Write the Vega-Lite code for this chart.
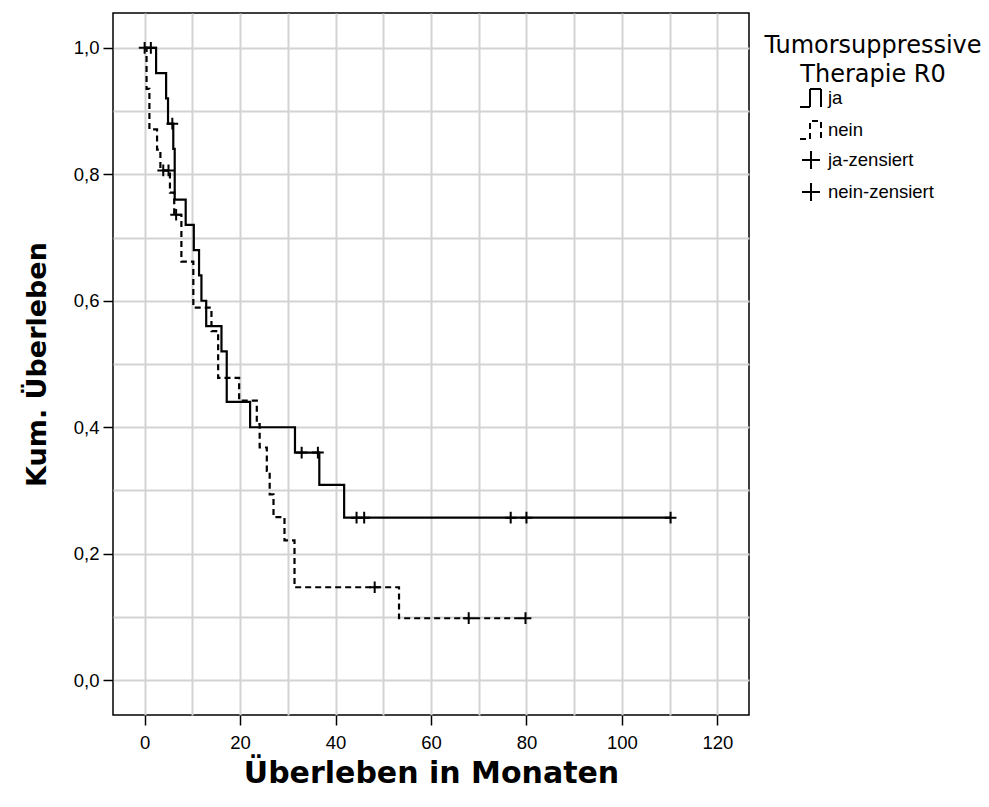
{
  "$schema": "https://vega.github.io/schema/vega-lite/v6.json",
  "width": 636,
  "height": 702,
  "autosize": {"type": "none"},
  "padding": {"left": 113, "top": 13, "right": 240, "bottom": 92},
  "background": "white",
  "title": {
    "text": ["Tumorsuppressive", "Therapie R0"],
    "orient": "top",
    "anchor": "end",
    "frame": "group",
    "align": "center",
    "baseline": "top",
    "offset": 0,
    "dx": 124,
    "dy": 74,
    "font": "DejaVu Sans",
    "fontSize": 24,
    "fontWeight": "normal",
    "color": "black",
    "lineHeight": 29,
    "limit": 400
  },
  "config": {
    "view": {"stroke": "black", "strokeWidth": 1.5},
    "font": "Liberation Sans"
  },
  "datasets": {
    "curves": [
      {"gruppe": "ja", "t": 0, "s": 1.0},
      {"gruppe": "ja", "t": 2.4, "s": 0.96},
      {"gruppe": "ja", "t": 4.5, "s": 0.92},
      {"gruppe": "ja", "t": 4.9, "s": 0.88},
      {"gruppe": "ja", "t": 6.0, "s": 0.84},
      {"gruppe": "ja", "t": 6.3, "s": 0.76},
      {"gruppe": "ja", "t": 8.6, "s": 0.72},
      {"gruppe": "ja", "t": 10.3, "s": 0.68},
      {"gruppe": "ja", "t": 11.4, "s": 0.64},
      {"gruppe": "ja", "t": 11.9, "s": 0.60},
      {"gruppe": "ja", "t": 12.9, "s": 0.56},
      {"gruppe": "ja", "t": 16.1, "s": 0.52},
      {"gruppe": "ja", "t": 17.2, "s": 0.44},
      {"gruppe": "ja", "t": 22.1, "s": 0.40},
      {"gruppe": "ja", "t": 31.5, "s": 0.36},
      {"gruppe": "ja", "t": 36.6, "s": 0.309},
      {"gruppe": "ja", "t": 41.8, "s": 0.257},
      {"gruppe": "ja", "t": 110.2, "s": 0.257},
      {"gruppe": "nein", "t": 0, "s": 1.0},
      {"gruppe": "nein", "t": 0.4, "s": 0.935},
      {"gruppe": "nein", "t": 1.0, "s": 0.871},
      {"gruppe": "nein", "t": 2.6, "s": 0.839},
      {"gruppe": "nein", "t": 3.3, "s": 0.806},
      {"gruppe": "nein", "t": 5.3, "s": 0.771},
      {"gruppe": "nein", "t": 6.2, "s": 0.736},
      {"gruppe": "nein", "t": 7.7, "s": 0.662},
      {"gruppe": "nein", "t": 10.2, "s": 0.589},
      {"gruppe": "nein", "t": 14.0, "s": 0.552},
      {"gruppe": "nein", "t": 15.4, "s": 0.478},
      {"gruppe": "nein", "t": 19.8, "s": 0.442},
      {"gruppe": "nein", "t": 23.5, "s": 0.405},
      {"gruppe": "nein", "t": 24.1, "s": 0.368},
      {"gruppe": "nein", "t": 25.6, "s": 0.331},
      {"gruppe": "nein", "t": 26.2, "s": 0.294},
      {"gruppe": "nein", "t": 27.0, "s": 0.258},
      {"gruppe": "nein", "t": 29.3, "s": 0.221},
      {"gruppe": "nein", "t": 31.4, "s": 0.147},
      {"gruppe": "nein", "t": 53.3, "s": 0.098},
      {"gruppe": "nein", "t": 79.8, "s": 0.098}
    ],
    "censors": [
      {"kategorie": "ja-zensiert", "t": 1.3, "s": 1.0},
      {"kategorie": "ja-zensiert", "t": 5.8, "s": 0.88},
      {"kategorie": "ja-zensiert", "t": 32.9, "s": 0.36},
      {"kategorie": "ja-zensiert", "t": 36.3, "s": 0.36},
      {"kategorie": "ja-zensiert", "t": 44.4, "s": 0.257},
      {"kategorie": "ja-zensiert", "t": 46.0, "s": 0.257},
      {"kategorie": "ja-zensiert", "t": 76.7, "s": 0.257},
      {"kategorie": "ja-zensiert", "t": 80.0, "s": 0.257},
      {"kategorie": "ja-zensiert", "t": 110.2, "s": 0.257},
      {"kategorie": "nein-zensiert", "t": 0, "s": 1.0},
      {"kategorie": "nein-zensiert", "t": 3.9, "s": 0.806},
      {"kategorie": "nein-zensiert", "t": 5.0, "s": 0.806},
      {"kategorie": "nein-zensiert", "t": 6.6, "s": 0.736},
      {"kategorie": "nein-zensiert", "t": 48.2, "s": 0.147},
      {"kategorie": "nein-zensiert", "t": 67.9, "s": 0.098},
      {"kategorie": "nein-zensiert", "t": 79.8, "s": 0.098}
    ]
  },
  "layer": [
    {
      "data": {"name": "curves"},
      "mark": {"type": "line", "interpolate": "step-after", "color": "black", "strokeWidth": 2.2},
      "encoding": {
        "x": {
          "field": "t",
          "type": "quantitative",
          "scale": {"domain": [-6.63, 126.63], "nice": false, "zero": false},
          "axis": {
            "title": "Überleben in Monaten",
            "values": [0, 10, 20, 30, 40, 50, 60, 70, 80, 90, 100, 110, 120],
            "grid": true,
            "gridColor": "#d3d3d3",
            "gridWidth": 2,
            "domain": false,
            "tickSize": 10,
            "tickWidth": 1.5,
            "tickColor": "black",
            "tickOpacity": {"condition": {"test": "datum.value % 20 === 0", "value": 1}, "value": 0},
            "labelExpr": "datum.value % 20 === 0 ? datum.label : ''",
            "labelFontSize": 18.5,
            "labelColor": "black",
            "labelPadding": 8,
            "labelOverlap": false,
            "labelFlush": false,
            "titleFont": "DejaVu Sans",
            "titleFontWeight": "bold",
            "titleFontSize": 30,
            "titleColor": "black",
            "titlePadding": 7
          }
        },
        "y": {
          "field": "s",
          "type": "quantitative",
          "scale": {"domain": [-0.055, 1.055], "nice": false, "zero": false},
          "axis": {
            "title": "Kum. Überleben",
            "values": [0, 0.1, 0.2, 0.3, 0.4, 0.5, 0.6, 0.7, 0.8, 0.9, 1.0],
            "grid": true,
            "gridColor": "#d3d3d3",
            "gridWidth": 2,
            "domain": false,
            "tickSize": 10,
            "tickWidth": 1.5,
            "tickColor": "black",
            "tickOpacity": {"condition": {"test": "round(datum.value * 10) % 2 === 0", "value": 1}, "value": 0},
            "labelExpr": "round(datum.value * 10) % 2 === 0 ? replace(format(datum.value, '.1f'), '.', ',') : ''",
            "labelFontSize": 18.5,
            "labelColor": "black",
            "labelPadding": 4,
            "labelOverlap": false,
            "labelFlush": false,
            "titleFont": "DejaVu Sans",
            "titleFontWeight": "bold",
            "titleFontSize": 27,
            "titleColor": "black",
            "titlePadding": 22
          }
        },
        "strokeDash": {
          "field": "gruppe",
          "type": "nominal",
          "scale": {"domain": ["ja", "nein"], "range": [[1, 0], [6, 4]]},
          "legend": {
            "orient": "none",
            "legendX": 687,
            "legendY": 74,
            "title": null,
            "labelFontSize": 18.5,
            "labelColor": "black",
            "labelOffset": 6,
            "symbolType": "M-1.1,0.9L-0.1,0.9L-0.1,-0.9L1,-0.9L1,0.9",
            "symbolSize": 400,
            "symbolStrokeWidth": 2,
            "symbolStrokeColor": "black",
            "symbolFillColor": "transparent",
            "rowPadding": 6,
            "padding": 0
          }
        }
      }
    },
    {
      "data": {"name": "censors"},
      "mark": {"type": "point", "filled": false, "color": "black", "strokeWidth": 2, "size": 170, "opacity": 1},
      "encoding": {
        "x": {"field": "t", "type": "quantitative"},
        "y": {"field": "s", "type": "quantitative"},
        "shape": {
          "field": "kategorie",
          "type": "nominal",
          "scale": {
            "domain": ["ja-zensiert", "nein-zensiert"],
            "range": [
              "M-0.9,0L0.9,0M0,-0.9L0,0.9",
              "M-0.9,0L0.9,0M0,-0.9L0,0.9"
            ]
          },
          "legend": {
            "orient": "none",
            "legendX": 687,
            "legendY": 136,
            "title": null,
            "labelFontSize": 18.5,
            "labelColor": "black",
            "labelOffset": 6,
            "symbolSize": 400,
            "symbolStrokeWidth": 2,
            "symbolStrokeColor": "black",
            "symbolFillColor": "transparent",
            "rowPadding": 6,
            "padding": 0
          }
        }
      }
    }
  ]
}
